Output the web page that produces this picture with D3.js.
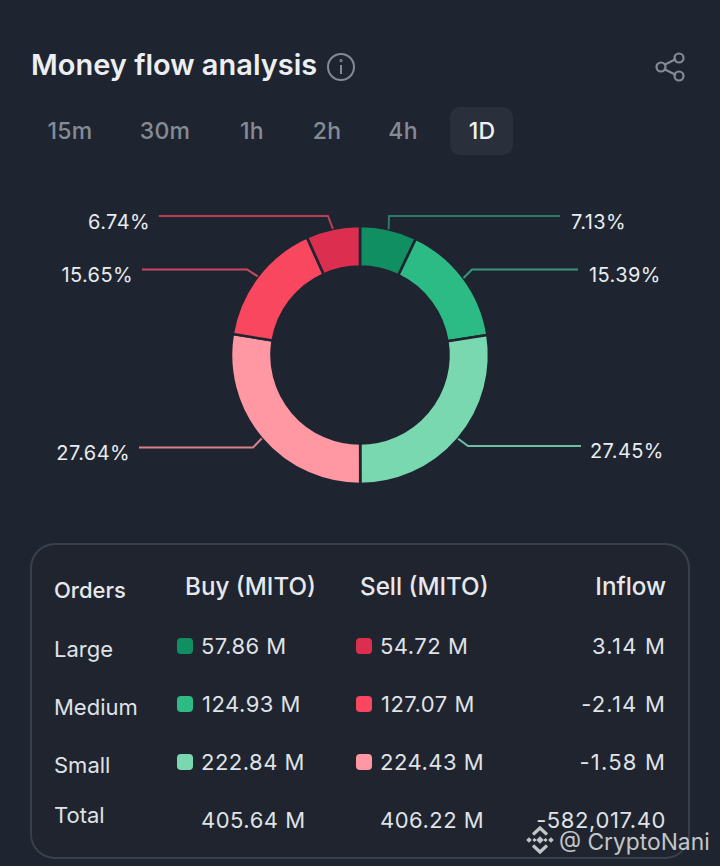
<!DOCTYPE html>
<html>
<head>
<meta charset="utf-8">
<script src="https://cdn.jsdelivr.net/npm/d3@7"></script>
<style>
html, body { margin: 0; padding: 0; background: #1f2530; }
svg { display: block; }
text { font-family: "Inter", "Noto Sans", sans-serif; }
</style>
</head>
<body>
<svg id="drawing_region"></svg>
<script>
// data
const title = "Money flow analysis";
const periods = ["15m", "30m", "1h", "2h", "4h", "1D"];
const selectedPeriod = "1D";

const sliceLabels = ["Large buy", "Medium buy", "Small buy", "Small sell", "Medium sell", "Large sell"];
const sliceShares = [7.13, 15.39, 27.45, 27.64, 15.65, 6.74];
const sliceColors = ["#108f62", "#2dbb85", "#7ad8b0", "#ff98a2", "#f9475f", "#dc2f50"];
const leaderColors = ["#2f7a66", "#38967a", "#6cbfa2", "#d9808a", "#c94a60", "#b93f58"];

const rowNames = ["Large", "Medium", "Small"];
const buyValues = ["57.86 M", "124.93 M", "222.84 M"];
const sellValues = ["54.72 M", "127.07 M", "224.43 M"];
const inflowValues = ["3.14 M", "-2.14 M", "-1.58 M"];
const totalRow = ["Total", "405.64 M", "406.22 M", "-582,017.40"];

const width = 720, height = 866;
const bg = "#1f2530";

const svg = d3.select("#drawing_region").attr("width", width).attr("height", height);

// header
svg.append("text").attr("x", 31).attr("y", 75)
    .attr("font-size", 29).attr("font-weight", 600).attr("fill", "#eceef2").text(title);

const info = svg.append("g").attr("transform", "translate(341,67)")
    .attr("fill", "none").attr("stroke", "#858b95").attr("stroke-width", 2);
info.append("circle").attr("r", 13);
info.append("path").attr("d", "M0,-2V7");
info.append("circle").attr("cy", -6.5).attr("r", 0.6);

const share = svg.append("g").attr("transform", "translate(670,67)")
    .attr("fill", "none").attr("stroke", "#858b95").attr("stroke-width", 2.2);
share.append("path").attr("d", "M-6,-2L6,-8M-6,2L6,8");
share.append("circle").attr("cx", -9).attr("r", 4.5);
share.append("circle").attr("cx", 9).attr("cy", -9).attr("r", 4.5);
share.append("circle").attr("cx", 9).attr("cy", 9).attr("r", 4.5);

// period tabs, spaced by the width of their labels as in a flex row
const tabX = d3.scaleOrdinal().domain(periods).range([70, 165, 252, 327, 403, 482]);
svg.append("rect").attr("x", 450).attr("y", 107).attr("width", 63).attr("height", 48)
    .attr("rx", 10).attr("fill", "#2a303b");
svg.selectAll(".tab").data(periods).enter().append("text")
    .attr("class", "tab")
    .attr("x", d => tabX(d)).attr("y", 139)
    .attr("text-anchor", "middle").attr("font-size", 23).attr("font-weight", 500)
    .attr("letter-spacing", 0.3)
    .attr("fill", d => d === selectedPeriod ? "#f0f2f5" : "#858b95")
    .text(d => d);

// donut
const cx = 360, cy = 355, outerR = 129, innerR = 88.5;
const pie = d3.pie().sort(null).value(d => d);
const arc = d3.arc().innerRadius(innerR).outerRadius(outerR);
const arcs = pie(sliceShares);

const donut = svg.append("g").attr("transform", `translate(${cx},${cy})`);
donut.selectAll("path").data(arcs).enter().append("path")
    .attr("d", arc)
    .attr("fill", (d, i) => sliceColors[i])
    .attr("stroke", bg).attr("stroke-width", 2.6);

// leader lines start on the ring, the elbow and the end are layout only
const leaderLayout = [
    {elbowX: 29, elbowY: -139, endX: 200, textX: 211, anchor: "start", textY: -126},
    {elbowX: 112, elbowY: -85.5, endX: 218, textX: 229, anchor: "start", textY: -73},
    {elbowX: 108, elbowY: 91, endX: 221, textX: 230, anchor: "start", textY: 103},
    {elbowX: -107, elbowY: 92.5, endX: -221, textX: -230, anchor: "end", textY: 105},
    {elbowX: -113, elbowY: -85.5, endX: -218, textX: -227, anchor: "end", textY: -73},
    {elbowX: -32, elbowY: -139, endX: -201, textX: -210, anchor: "end", textY: -126}
];
const onRing = d => {
    const a = (d.startAngle + d.endAngle) / 2;
    return [Math.sin(a) * outerR, -Math.cos(a) * outerR];
};
donut.selectAll(".leader").data(arcs).enter().append("path")
    .attr("class", "leader")
    .attr("fill", "none").attr("stroke-width", 2)
    .attr("stroke", (d, i) => leaderColors[i])
    .attr("d", (d, i) => {
        const l = leaderLayout[i];
        return d3.line()([onRing(d), [l.elbowX, l.elbowY], [l.endX, l.elbowY]]);
    });
donut.selectAll(".pct").data(arcs).enter().append("text")
    .attr("class", "pct")
    .attr("x", (d, i) => leaderLayout[i].textX)
    .attr("y", (d, i) => leaderLayout[i].textY)
    .attr("text-anchor", (d, i) => leaderLayout[i].anchor)
    .attr("font-size", 20).attr("letter-spacing", 0.4).attr("font-kerning", "none")
    .attr("fill", "#e8ebef")
    .text(d => d.data.toFixed(2) + "%");

// table card
svg.append("rect").attr("x", 31).attr("y", 544).attr("width", 658).attr("height", 314)
    .attr("rx", 24).attr("fill", "#1f242e").attr("stroke", "#3a404a").attr("stroke-width", 2);

const headText = (t, x, y, anchor, size) => svg.append("text")
    .attr("x", x).attr("y", y).attr("text-anchor", anchor)
    .attr("font-size", size).attr("font-weight", 500)
    .attr("fill", "#e6e8ec").text(t);
headText("Orders", 54, 598, "start", 22);
headText("Buy (MITO)", 185, 595, "start", 24.2);
headText("Sell (MITO)", 360, 595, "start", 24.2);
headText("Inflow", 666, 595, "end", 24.2);

const rowY = d3.scalePoint().domain(rowNames).range([654, 770]);
const cell = (x, y, anchor, t, spacing) => svg.append("text")
    .attr("x", x).attr("y", y).attr("text-anchor", anchor)
    .attr("font-size", 22).attr("letter-spacing", spacing).attr("font-kerning", "none")
    .attr("fill", "#dfe2e7").text(t);

rowNames.forEach((name, i) => {
    const y = rowY(name);
    cell(54, y + 3, "start", name, 0);
    svg.append("rect").attr("x", 177).attr("y", y - 16).attr("width", 16).attr("height", 16)
        .attr("rx", 4).attr("fill", sliceColors[i]);
    svg.append("rect").attr("x", 356).attr("y", y - 16).attr("width", 16).attr("height", 16)
        .attr("rx", 4).attr("fill", sliceColors[5 - i]);
    cell(i === 1 ? 202 : 201, y, "start", buyValues[i], 0.5);
    cell(i === 1 ? 381 : 380, y, "start", sellValues[i], 0.5);
    cell(666, y, "end", inflowValues[i], 1.2);
});

cell(54, 823, "start", totalRow[0], 0);
cell(201, 828, "start", totalRow[1], 0.5);
cell(380, 828, "start", totalRow[2], 0.5);
cell(666, 828, "end", totalRow[3], 0.6);

// watermark
const mark = svg.append("g").attr("transform", "translate(540,840)")
    .attr("fill", "#d5d7da").attr("stroke", "#d5d7da").attr("opacity", 0.9);
[[0, 0, 2.2], [-5.5, 0, 1], [5.5, 0, 1], [-11, 0, 1.5], [11, 0, 1.5]].forEach(p => {
    mark.append("path")
        .attr("transform", `translate(${p[0]},${p[1]}) rotate(45)`)
        .attr("d", d3.line()([[-p[2], -p[2]], [p[2], -p[2]], [p[2], p[2]], [-p[2], p[2]]]) + "Z");
});
mark.append("path").attr("fill", "none").attr("stroke-width", 3.2)
    .attr("d", "M-7,-5.5L0,-12L7,-5.5M-7,5.5L0,12L7,5.5");
svg.append("text").attr("x", 559).attr("y", 850)
    .attr("font-size", 22.8).attr("fill", "#d5d7da").attr("opacity", 0.9).text("@ CryptoNani");
</script>
</body>
</html>
